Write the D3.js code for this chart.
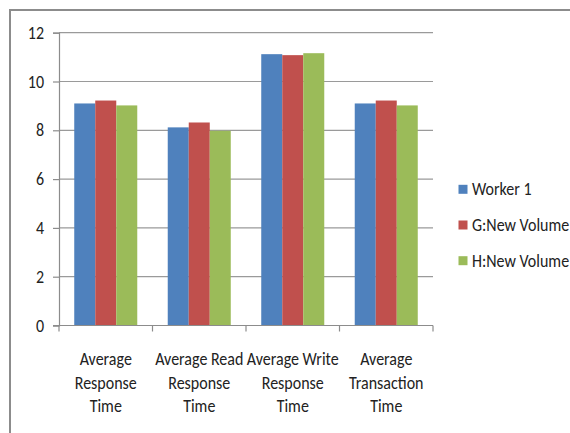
<!DOCTYPE html>
<html>
<head>
<meta charset="utf-8">
<script src="https://cdn.jsdelivr.net/npm/d3@7"></script>
<style>
  html, body { margin: 0; padding: 0; background: #fff; }
  svg { display: block; }
  text { font-family: Carlito, "Liberation Sans Narrow", "DejaVu Sans Condensed", sans-serif; fill: #222; font-size: 16px; }
</style>
</head>
<body>
<svg id="chart" width="570" height="433"></svg>
<script>
// Categories (multi-line labels) and series values
const categories = [
  ["Average", "Response", "Time"],
  ["Average Read", "Response", "Time"],
  ["Average Write", "Response", "Time"],
  ["Average", "Transaction", "Time"]
];
const seriesNames = ["Worker 1", "G:New Volume", "H:New Volume"];
const worker1 = [9.1, 8.12, 11.12, 9.1];
const gVolume = [9.22, 8.32, 11.08, 9.22];
const hVolume = [9.02, 7.98, 11.16, 9.02];
const yTicks = [0, 2, 4, 6, 8, 10, 12];
const colors = ["#4F81BD", "#C0504D", "#9BBB59"];

const series = [worker1, gVolume, hVolume];
const svg = d3.select("#chart");
const TALL = 1.2; // glyphs are drawn slightly taller than wide

// Places a text with its baseline at (x, y), stretched vertically
function tallText(parent, x, y, str, anchor) {
  return parent.append("text")
    .attr("transform", `translate(${x},${y}) scale(1,${TALL})`)
    .attr("text-anchor", anchor || "start")
    .text(str);
}

// Outer chart frame
svg.append("rect")
  .attr("x", 10).attr("y", 10)
  .attr("width", 575).attr("height", 440)
  .attr("fill", "none").attr("stroke", "#8c8c8c").attr("stroke-width", 2);

const plot = { left: 59, right: 433, top: 32.7, bottom: 325.5 };

const x0 = d3.scaleBand()
  .domain(d3.range(categories.length))
  .range([plot.left, plot.right])
  .paddingInner(0.326).paddingOuter(0.163);
const x1 = d3.scaleBand()
  .domain(d3.range(series.length))
  .range([0, x0.bandwidth()]);
const y = d3.scaleLinear().domain([0, 12]).range([plot.bottom, plot.top]);

// Horizontal gridlines
svg.append("g")
  .selectAll("line")
  .data(yTicks.filter(d => d > 0))
  .join("line")
  .attr("x1", plot.left).attr("x2", plot.right)
  .attr("y1", d => y(d)).attr("y2", d => y(d))
  .attr("stroke", "#9a9a9a").attr("stroke-width", 1.2);

// Bars
const groups = svg.append("g")
  .selectAll("g")
  .data(categories.map((c, i) => i))
  .join("g")
  .attr("transform", i => `translate(${x0(i)},0)`);

groups.selectAll("rect")
  .data(i => series.map((s, k) => ({ k, v: s[i] })))
  .join("rect")
  .attr("x", d => x1(d.k))
  .attr("width", x1.bandwidth())
  .attr("y", d => y(d.v))
  .attr("height", d => y(0) - y(d.v))
  .attr("fill", d => colors[d.k]);

// Y axis (labels drawn separately so they can be stretched)
const yAxis = d3.axisLeft(y).tickValues(yTicks).tickSize(6).tickFormat("");
const gy = svg.append("g").attr("transform", `translate(${plot.left},0)`).call(yAxis);
gy.select(".domain").attr("stroke", "#8c8c8c").attr("stroke-width", 1.2);
gy.selectAll(".tick line").attr("stroke", "#8c8c8c").attr("stroke-width", 1.2);
const yLab = svg.append("g");
yTicks.forEach(t => tallText(yLab, plot.left - 15, y(t) + 6, String(t), "end"));

// X axis with tick marks at category boundaries
const xb = d3.scaleLinear().domain([0, categories.length]).range([plot.left, plot.right]);
const gx = svg.append("g").attr("transform", `translate(0,${plot.bottom})`);
gx.append("line").attr("x1", plot.left - 6).attr("x2", plot.right)
  .attr("stroke", "#8c8c8c").attr("stroke-width", 1.2);
gx.selectAll("line.tk")
  .data(d3.range(categories.length + 1))
  .join("line").attr("class", "tk")
  .attr("x1", d => xb(d)).attr("x2", d => xb(d))
  .attr("y1", 0).attr("y2", 6)
  .attr("stroke", "#8c8c8c").attr("stroke-width", 1.2);

// Category labels, three lines each
categories.forEach((lines, i) => {
  const cx = x0(i) + x0.bandwidth() / 2;
  lines.forEach((s, j) => tallText(gx, cx, 39.5 + j * 23.7, s, "middle"));
});

// Legend
const legend = svg.append("g").attr("transform", "translate(458.5,0)");
seriesNames.forEach((name, i) => {
  const cy = 189.3 + i * 35.7;
  legend.append("rect").attr("x", 0).attr("y", cy - 4.5)
    .attr("width", 9).attr("height", 9).attr("fill", colors[i]);
  tallText(legend, 13.5, cy + 6, name, "start");
});
</script>
</body>
</html>
